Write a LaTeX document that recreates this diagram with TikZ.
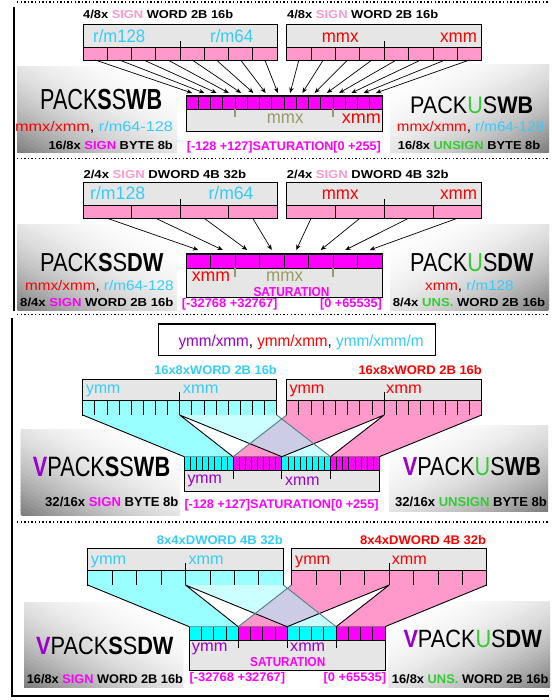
\documentclass[tikz,border=0pt]{standalone}
\usepackage{fontspec}
\setmainfont{Liberation Sans}
\usepackage{graphicx}
\usetikzlibrary{arrows.meta}
\definecolor{lpink}{HTML}{FF99CC}
\definecolor{mag}{HTML}{FF00FF}
\definecolor{cytx}{HTML}{33CCFF}
\definecolor{cyc}{HTML}{99FFFF}
\definecolor{cyl}{HTML}{CCFFFF}
\definecolor{cyb}{HTML}{00FFFF}
\definecolor{rd}{HTML}{FF0000}
\definecolor{grn}{HTML}{33CC33}
\definecolor{pur}{HTML}{9900CC}
\definecolor{olv}{HTML}{999966}
\definecolor{boxg}{HTML}{E6E6E6}
\definecolor{lav}{HTML}{CCCCE6}
\definecolor{tealx}{HTML}{4D8080}
\newcommand\wfit[2]{\resizebox{#1pt}{\height}{#2}}
\newcommand\fsz[1]{\fontsize{#1}{#1}\selectfont}
% diagonal gradient box: x0 y0 x1 y1 dir (1 = dark bottom-left, -1 = dark bottom-right)
\newcommand\gbox[5]{%
  \begin{scope}
    \clip (#1,#2) rectangle (#3,#4);
    \pgfmathsetmacro\gw{#3-#1}%
    \pgfmathsetmacro\gh{#4-#2}%
    \pgfmathsetmacro\gxo{(#5)>0 ? #1 : #3}%
    \foreach \k in {0,...,39} {
      \pgfmathsetmacro\sa{2*\k/40}%
      \pgfmathsetmacro\sb{2*(\k+1)/40+0.02}%
      \pgfmathsetmacro\sm{(\k+0.5)/40}%
      \pgfmathsetmacro\gv{52*(1-\sm)^2.3}%
      \fill[black!\gv]
        ({\gxo+(#5)*(\sa+2)*\gw},{#4+2*\gh}) -- ({\gxo+(#5)*(\sb+2)*\gw},{#4+2*\gh})
        -- ({\gxo+(#5)*(\sb-2)*\gw},{#4-2*\gh}) -- ({\gxo+(#5)*(\sa-2)*\gw},{#4-2*\gh}) -- cycle;
    }
  \end{scope}}
\begin{document}
\begin{tikzpicture}[x=1pt,y=-1pt,
  box/.style={draw, line width=1pt, fill=boxg},
  cell/.style={draw, line width=0.8pt},
  arr/.style={-{Stealth[length=5.5pt,width=4.5pt]}, line width=0.7pt},
  dotl/.style={line width=1.3pt, dash pattern=on 1.3pt off 2.3pt},
  frm/.style={line width=1.7pt},
  t/.style={inner sep=0pt, anchor=base west},
  fun/.style={line width=0.9pt}]
\useasboundingbox (0,0) rectangle (551,700);

% ---------------- frame
\draw[dotl] (17,2) -- (549,2);
\draw[frm] (14,7) -- (14,311);
\draw[dotl] (17,158.5) -- (549,158.5);
\draw[dotl] (17,314.5) -- (549,314.5);
\draw[frm] (12,318) -- (12,696) -- (549,696);
\draw[dotl] (17,522) -- (549,522);

% ---------------- gradients
\gbox{17}{67}{177}{153}{1}
\gbox{390}{65}{549}{153}{-1}
\gbox{17}{225}{177}{310}{1}
\gbox{390}{225}{549}{310}{-1}
\gbox{20.7}{429.3}{180}{515}{1}
\gbox{389}{425}{548}{511.7}{-1}
\gbox{24}{602.3}{183.3}{687.7}{1}
\gbox{388.3}{601.7}{550}{687.7}{-1}

% ================= SECTION 1
\draw[box] (83,25) rectangle (277,60);
\foreach \i in {0,...,7} {
  \draw[cell, fill=lpink] ({83+\i*24.25},47) rectangle ({83+(\i+1)*24.25},60);
  \coordinate (s1a\i) at ({83+(\i+0.5)*24.25},60);
}
\draw[line width=0.8pt] (180,41) -- (180,47);
\draw[box] (286.7,25) rectangle (481.7,60);
\foreach \i in {0,...,7} {
  \draw[cell, fill=lpink] ({286.7+\i*24.375},47) rectangle ({286.7+(\i+1)*24.375},60);
  \coordinate (s1b\i) at ({286.7+(\i+0.5)*24.375},60);
}
\draw[line width=0.8pt] (384.2,41) -- (384.2,47);
\draw[box] (186,96) rectangle (382,132);
\foreach \j in {0,...,15} {
  \draw[cell, fill=mag] ({186+\j*12.25},96) rectangle ({186+(\j+1)*12.25},109);
  \coordinate (d1c\j) at ({186+(\j+0.5)*12.25},93);
}
\draw[olv, line width=1.2pt] (235,109) -- (235,117) (333,109) -- (333,117);
\foreach \i in {0,...,7} {\draw[arr] (s1a\i) -- (d1c\i);}
\foreach \i [evaluate=\i as \j using int(\i+8)] in {0,...,7} {\draw[arr] (s1b\i) -- (d1c\j);}

\node[t,font=\bfseries\fsz{11.5}] (h1a) at (83,19) {\wfit{150}{4/8x \textcolor{lpink}{SIGN} WORD 2B 16b}};
\node[t,font=\bfseries\fsz{11.5}] (h1b) at (287,19) {\wfit{151}{4/8x \textcolor{lpink}{SIGN} WORD 2B 16b}};
\node[t,font=\fsz{18},text=cytx] (l1a) at (93,43) {\wfit{52}{r/m128}};
\node[t,font=\fsz{18},text=cytx] (l1b) at (210,43) {\wfit{43}{r/m64}};
\node[t,font=\fsz{18},text=rd] (l1c) at (321.7,43) {\wfit{36.6}{mmx}};
\node[t,font=\fsz{18},text=rd] (l1d) at (440,43) {\wfit{36.7}{xmm}};
\node[t,font=\fsz{18},text=olv] (l1e) at (266.7,123.3) {\wfit{36.6}{mmx}};
\node[t,font=\fsz{18},text=rd] (l1f) at (341.7,123.3) {\wfit{39}{xmm}};
\node[t,font=\bfseries\fsz{12.5},text=mag] (sat1) at (186.7,151) {\wfit{194}{[-128 +127]SATURATION[0 +255]}};
\node[t,font=\fsz{29}] (T1a) at (40,110) {\wfit{122}{PACK\textbf{S}S\textbf{WB}}};
\node[t,font=\fsz{14}] (o1a) at (15,131.7) {\wfit{157.7}{\textcolor{rd}{mmx/xmm}, \textcolor{cytx}{r/m64-128}}};
\node[t,font=\bfseries\fsz{11.6}] (b1a) at (48.3,150) {\wfit{124.4}{16/8x \textcolor{mag}{SIGN} BYTE 8b}};
\node[t,font=\fsz{24}] (T1b) at (410,113.3) {\wfit{123}{PACK\textcolor{grn}{U}S\textbf{WB}}};
\node[t,font=\fsz{14}] (o1b) at (396.7,131.7) {\wfit{147.3}{\textcolor{rd}{mmx/xmm}, \textcolor{cytx}{r/m64-128}}};
\node[t,font=\bfseries\fsz{11.6}] (b1b) at (397.7,150) {\wfit{142.3}{16/8x \textcolor{grn}{UNSIGN} BYTE 8b}};

% ================= SECTION 2
\draw[box] (83,182.3) rectangle (277,218.3);
\foreach \i in {0,...,3} {
  \draw[cell, fill=lpink] ({83+\i*48.5},205) rectangle ({83+(\i+1)*48.5},218.3);
  \coordinate (s2a\i) at ({83+(\i+0.5)*48.5},218.3);
}
\draw[line width=0.8pt] (180,199) -- (180,205);
\draw[box] (286.7,182.3) rectangle (481.7,218.3);
\foreach \i in {0,...,3} {
  \draw[cell, fill=lpink] ({286.7+\i*48.75},205) rectangle ({286.7+(\i+1)*48.75},218.3);
  \coordinate (s2b\i) at ({286.7+(\i+0.5)*48.75},218.3);
}
\draw[line width=0.8pt] (384.2,199) -- (384.2,205);
\draw[box] (186,254) rectangle (382,297);
\foreach \j in {0,...,7} {
  \draw[cell, fill=mag] ({186+\j*24.5},254) rectangle ({186+(\j+1)*24.5},268);
  \coordinate (d2c\j) at ({186+(\j+0.5)*24.5},250);
}
\draw[olv, line width=1.2pt] (235,268) -- (235,277) (333,268) -- (333,277);
\foreach \i in {0,...,3} {\draw[arr] (s2a\i) -- (d2c\i);}
\foreach \i [evaluate=\i as \j using int(\i+4)] in {0,...,3} {\draw[arr] (s2b\i) -- (d2c\j);}

\node[t,font=\bfseries\fsz{11.5}] (h2a) at (83.3,178.3) {\wfit{162.7}{2/4x \textcolor{lpink}{SIGN} DWORD 4B 32b}};
\node[t,font=\bfseries\fsz{11.5}] (h2b) at (286.7,178.3) {\wfit{161.6}{2/4x \textcolor{lpink}{SIGN} DWORD 4B 32b}};
\node[t,font=\fsz{18},text=cytx] (l2a) at (90,200) {\wfit{55}{r/m128}};
\node[t,font=\fsz{18},text=cytx] (l2b) at (208.3,200) {\wfit{45}{r/m64}};
\node[t,font=\fsz{18},text=rd] (l2c) at (321.7,200) {\wfit{36.6}{mmx}};
\node[t,font=\fsz{18},text=rd] (l2d) at (440,200) {\wfit{37}{xmm}};
\node[t,font=\fsz{18},text=rd] (l2e) at (191.7,281.7) {\wfit{38.3}{xmm}};
\node[t,font=\fsz{18},text=olv] (l2f) at (266,281.7) {\wfit{37}{mmx}};
\node[t,font=\bfseries\fsz{13},text=mag] (sat2) at (253.3,296.7) {\wfit{76}{SATURATION}};
\node[t,font=\bfseries\fsz{12.5},text=mag] (r2a) at (181.7,307.7) {\wfit{95.6}{[-32768 +32767]}};
\node[t,font=\bfseries\fsz{12.5},text=mag] (r2b) at (320,307.7) {\wfit{61.7}{[0 +65535]}};
\node[t,font=\fsz{26}] (T2a) at (40,271.7) {\wfit{123.3}{PACK\textbf{S}S\textbf{DW}}};
\node[t,font=\fsz{14}] (o2a) at (25,290) {\wfit{148.3}{\textcolor{rd}{mmx/xmm}, \textcolor{cytx}{r/m64-128}}};
\node[t,font=\bfseries\fsz{11.6}] (b2a) at (20,306.7) {\wfit{153.3}{8/4x \textcolor{mag}{SIGN} WORD 2B 16b}};
\node[t,font=\fsz{26}] (T2b) at (410,271.7) {\wfit{123.3}{PACK\textcolor{grn}{U}S\textbf{DW}}};
\node[t,font=\fsz{14}] (o2b) at (425,290) {\wfit{88.3}{\textcolor{rd}{xmm}, \textcolor{cytx}{r/m128}}};
\node[t,font=\bfseries\fsz{11.6}] (b2b) at (392.7,306.7) {\wfit{152.3}{8/4x \textcolor{grn}{UNS.} WORD 2B 16b}};

% ================= SECTION 3
\draw[line width=1.5pt, fill=white] (158.3,324) rectangle (435.7,355.7);
\node[t,font=\fsz{16}] (ops) at (178.3,346.7) {\wfit{245}{\textcolor{pur}{ymm/xmm}, \textcolor{rd}{ymm/xmm}, \textcolor{cytx}{ymm/xmm/m}}};
\draw[box] (82.7,379) rectangle (276.7,415);
\foreach \i in {0,...,15} {
  \draw[cell, fill=cyc] ({82.7+\i*12.125},400) rectangle ({82.7+(\i+1)*12.125},415);
}
\draw[line width=0.8pt] (179.7,391.7) -- (179.7,400);
\draw[box] (286.7,379) rectangle (481.7,415);
\foreach \i in {0,...,15} {
  \draw[cell, fill=lpink] ({286.7+\i*12.1875},400) rectangle ({286.7+(\i+1)*12.1875},415);
}
\draw[line width=0.8pt] (384.2,391.7) -- (384.2,400);
\draw[box] (184.3,456.7) rectangle (379.3,491.7);
\foreach \g/\cc in {0/cyb,1/mag,2/cyb,3/mag} {
  \foreach \k in {0,...,7} {
    \draw[cell, fill=\cc, line width=0.7pt] ({184.3+(\g*8+\k)*6.094},456.7) rectangle ({184.3+(\g*8+\k+1)*6.094},470);
  }
}
\draw[line width=0.8pt] (233.05,470) -- (233.05,479.3) (281.8,470) -- (281.8,479.3) (330.55,470) -- (330.55,479.3);
% funnels
\coordinate (p3aL) at (82.7,415); \coordinate (p3aM) at (179.7,415); \coordinate (p3aR) at (276.7,415);
\coordinate (p3bL) at (286.7,415); \coordinate (p3bM) at (384.2,415); \coordinate (p3bR) at (481.7,415);
\coordinate (q30) at (184.3,456.7); \coordinate (q31) at (233.05,456.7); \coordinate (q32) at (281.8,456.7);
\coordinate (q33) at (330.55,456.7); \coordinate (q34) at (379.3,456.7);
\fill[cyc] (p3aL) -- (p3aM) -- (q31) -- (q30) -- cycle;
\fill[cyl] (p3aM) -- (p3aR) -- (q33) -- (q32) -- cycle;
\fill[lpink] (p3bL) -- (p3bM) -- (q32) -- (q31) -- cycle;
\fill[lpink] (p3bM) -- (p3bR) -- (q34) -- (q33) -- cycle;
\begin{scope}
  \clip (p3aM) -- (p3aR) -- (q33) -- (q32) -- cycle;
  \fill[lav] (p3bL) -- (p3bM) -- (q32) -- (q31) -- cycle;
\end{scope}
\draw[fun] (p3aL) -- (q30) (p3aM) -- (q31) (p3aM) -- (q32) (p3bM) -- (q32) (p3bM) -- (q33) (p3bR) -- (q34);
\draw[fun, tealx] (p3aR) -- (q33) (p3bL) -- (q31);

\node[t,font=\bfseries\fsz{12.5},text=cytx] (h3a) at (154,374) {\wfit{122.7}{16x8xWORD 2B 16b}};
\node[t,font=\bfseries\fsz{12.5},text=rd] (h3b) at (358.3,374) {\wfit{123.4}{16x8xWORD 2B 16b}};
\node[t,font=\fsz{16},text=cytx] (l3a) at (86,393.3) {\wfit{34}{ymm}};
\node[t,font=\fsz{16},text=cytx] (l3b) at (182.7,393.3) {\wfit{35.6}{xmm}};
\node[t,font=\fsz{16},text=rd] (l3c) at (289.3,393.3) {\wfit{34.7}{ymm}};
\node[t,font=\fsz{16},text=rd] (l3d) at (386,393.3) {\wfit{35.7}{xmm}};
\node[t,font=\fsz{16},text=pur] (l3e) at (187.3,483.3) {\wfit{34.4}{ymm}};
\node[t,font=\fsz{16},text=pur] (l3f) at (285,485) {\wfit{34.3}{xmm}};
\node[t,font=\bfseries\fsz{12.5},text=mag] (sat3) at (184.3,508.3) {\wfit{194}{[-128 +127]SATURATION[0 +255]}};
\node[t,font=\fsz{28}] (T3a) at (32.7,476.7) {\wfit{137.3}{\textcolor{pur}{\textbf{V}}PACK\textbf{S}S\textbf{WB}}};
\node[t,font=\bfseries\fsz{13}] (b3a) at (45,506.7) {\wfit{133.3}{32/16x \textcolor{mag}{SIGN} BYTE 8b}};
\node[t,font=\fsz{26}] (T3b) at (402.7,475) {\wfit{138}{\textcolor{pur}{\textbf{V}}PACK\textcolor{grn}{U}S\textbf{WB}}};
\node[t,font=\bfseries\fsz{13}] (b3b) at (395,506) {\wfit{151.7}{32/16x \textcolor{grn}{UNSIGN} BYTE 8b}};

% ================= SECTION 4
\draw[box] (87.7,548.3) rectangle (283.3,585);
\foreach \i in {0,...,7} {
  \draw[cell, fill=cyc] ({87.7+\i*24.45},570) rectangle ({87.7+(\i+1)*24.45},585);
}
\draw[line width=0.8pt] (185.5,563) -- (185.5,570);
\draw[box] (291.7,548.3) rectangle (486.7,585);
\foreach \i in {0,...,7} {
  \draw[cell, fill=lpink] ({291.7+\i*24.375},570) rectangle ({291.7+(\i+1)*24.375},585);
}
\draw[line width=0.8pt] (389.2,563) -- (389.2,570);
\draw[box] (189.3,626.7) rectangle (385,670);
\foreach \g/\cc in {0/cyb,1/mag,2/cyb,3/mag} {
  \foreach \k in {0,...,3} {
    \draw[cell, fill=\cc] ({189.3+(\g*4+\k)*12.231},626.7) rectangle ({189.3+(\g*4+\k+1)*12.231},640);
  }
}
\draw[line width=0.8pt] (238.2,640) -- (238.2,648.3) (287.15,640) -- (287.15,648.3) (336.1,640) -- (336.1,648.3);
\coordinate (p4aL) at (87.7,585); \coordinate (p4aM) at (185.5,585); \coordinate (p4aR) at (283.3,585);
\coordinate (p4bL) at (291.7,585); \coordinate (p4bM) at (389.2,585); \coordinate (p4bR) at (486.7,585);
\coordinate (q40) at (189.3,626.7); \coordinate (q41) at (238.2,626.7); \coordinate (q42) at (287.15,626.7);
\coordinate (q43) at (336.1,626.7); \coordinate (q44) at (385,626.7);
\fill[cyc] (p4aL) -- (p4aM) -- (q41) -- (q40) -- cycle;
\fill[cyl] (p4aM) -- (p4aR) -- (q43) -- (q42) -- cycle;
\fill[lpink] (p4bL) -- (p4bM) -- (q42) -- (q41) -- cycle;
\fill[lpink] (p4bM) -- (p4bR) -- (q44) -- (q43) -- cycle;
\begin{scope}
  \clip (p4aM) -- (p4aR) -- (q43) -- (q42) -- cycle;
  \fill[lav] (p4bL) -- (p4bM) -- (q42) -- (q41) -- cycle;
\end{scope}
\draw[fun] (p4aL) -- (q40) (p4aM) -- (q41) (p4aM) -- (q42) (p4bM) -- (q42) (p4bM) -- (q43) (p4bR) -- (q44);
\draw[fun, tealx] (p4aR) -- (q43) (p4bL) -- (q41);

\node[t,font=\bfseries\fsz{12.5},text=cytx] (h4a) at (156.7,544.3) {\wfit{126}{8x4xDWORD 4B 32b}};
\node[t,font=\bfseries\fsz{12.5},text=rd] (h4b) at (360,544.3) {\wfit{126}{8x4xDWORD 4B 32b}};
\node[t,font=\fsz{16},text=cytx] (l4a) at (90.7,564.3) {\wfit{35.3}{ymm}};
\node[t,font=\fsz{16},text=cytx] (l4b) at (188.3,564.3) {\wfit{35}{xmm}};
\node[t,font=\fsz{16},text=rd] (l4c) at (295,564.3) {\wfit{35}{ymm}};
\node[t,font=\fsz{16},text=rd] (l4d) at (391.7,564.3) {\wfit{35}{xmm}};
\node[t,font=\fsz{16},text=pur] (l4e) at (191.7,651.7) {\wfit{35.6}{ymm}};
\node[t,font=\fsz{16},text=pur] (l4f) at (290,651.7) {\wfit{35}{xmm}};
\node[t,font=\bfseries\fsz{13},text=mag] (sat4) at (250,666) {\wfit{75}{SATURATION}};
\node[t,font=\bfseries\fsz{12.5},text=mag] (r4a) at (189.3,681.7) {\wfit{95.7}{[-32768 +32767]}};
\node[t,font=\bfseries\fsz{12.5},text=mag] (r4b) at (323.3,681.7) {\wfit{62.7}{[0 +65535]}};
\node[t,font=\fsz{25}] (T4a) at (36,654.3) {\wfit{137.3}{\textcolor{pur}{\textbf{V}}PACK\textbf{S}S\textbf{DW}}};
\node[t,font=\bfseries\fsz{12.5}] (b4a) at (26.7,683.3) {\wfit{156}{16/8x \textcolor{mag}{SIGN} WORD 2B 16b}};
\node[t,font=\fsz{25}] (T4b) at (403.3,647.7) {\wfit{138.4}{\textcolor{pur}{\textbf{V}}PACK\textcolor{grn}{U}S\textbf{DW}}};
\node[t,font=\bfseries\fsz{12.5}] (b4b) at (391.7,683.3) {\wfit{156.6}{16/8x \textcolor{grn}{UNS.} WORD 2B 16b}};
\end{tikzpicture}
\end{document}
